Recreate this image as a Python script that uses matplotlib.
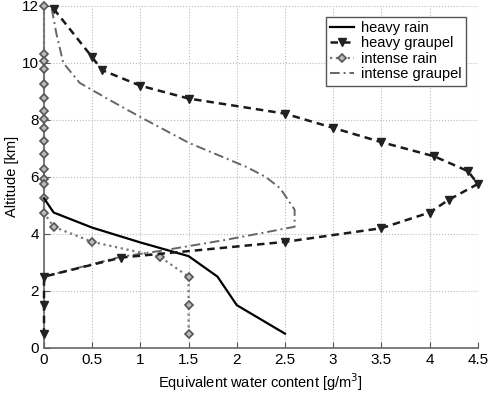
import matplotlib
matplotlib.use("Agg")
import matplotlib.pyplot as plt

plt.rcParams['font.family'] = ['Liberation Sans', 'DejaVu Sans']

# heavy rain (solid)
hr_x = [0, 0.1, 0.5, 1.0, 1.5, 1.8, 2.0, 2.5]
hr_y = [5.25, 4.75, 4.22, 3.7, 3.22, 2.5, 1.5, 0.5]

# heavy graupel (dashed, triangles)
hg_x = [0.1, 0.5, 0.6, 1.0, 1.5, 2.5, 3.0, 3.5, 4.05, 4.4, 4.5, 4.2, 4.0, 3.5, 2.5, 0.8, 0, 0, 0]
hg_y = [11.9, 10.2, 9.75, 9.2, 8.75, 8.22, 7.72, 7.22, 6.72, 6.2, 5.75, 5.2, 4.75, 4.2, 3.72, 3.17, 2.5, 1.5, 0.5]

# intense rain (dotted, diamonds)
ir_x = [0] * 16 + [0.1, 0.5, 1.2, 1.5, 1.5, 1.5]
ir_y = [12, 10.3, 10.07, 9.78, 9.25, 8.78, 8.31, 8.02, 7.73, 7.26, 6.79, 6.26, 5.91, 5.74, 5.27, 4.74,
        4.25, 3.72, 3.2, 2.5, 1.5, 0.5]

# intense graupel (dash-dot)
ig_x = [0.08, 0.13, 0.2, 0.37, 0.68, 1.0, 1.5, 2.1, 2.3, 2.45, 2.6, 2.6, 1.9, 1.2, 0.8, 0]
ig_y = [11.9, 11.0, 10.0, 9.3, 8.7, 8.1, 7.2, 6.35, 6.0, 5.6, 4.85, 4.25, 3.8, 3.4, 3.2, 2.5]

xticks = [0, 0.5, 1, 1.5, 2, 2.5, 3, 3.5, 4, 4.5]
xtick_labels = ['0', '0.5', '1', '1.5', '2', '2.5', '3', '3.5', '4', '4.5']
yticks = [0, 2, 4, 6, 8, 10, 12]

fig = plt.figure(figsize=(4.89, 3.94), dpi=100)
ax = fig.add_axes([0.09, 0.117, 0.887, 0.868])

ax.plot(hr_x, hr_y, color='black', lw=1.6, label='heavy rain', clip_on=False, zorder=4)
ax.plot(hg_x, hg_y, color='#1a1a1a', lw=1.8, ls=(0, (3, 2)), marker='v', ms=6,
        mfc='#222222', mec='#222222', label='heavy graupel', clip_on=False, zorder=5)
ax.plot(ir_x, ir_y, color='#777777', lw=1.6, ls=':', marker='D', ms=4,
        mfc='#bbbbbb', mec='#555555', mew=1.2, label='intense rain', clip_on=False, zorder=3)
ax.plot(ig_x, ig_y, color='#666666', lw=1.4, ls=(0, (5, 2, 1, 2)), label='intense graupel',
        clip_on=False, zorder=3)

ax.set_xlim(0, 4.5)
ax.set_ylim(0, 12)
ax.set_xticks(xticks)
ax.set_xticklabels(xtick_labels)
ax.set_yticks(yticks)
ax.grid(True, ls=':', color='#bbbbbb', lw=0.8)
ax.tick_params(direction='in', labelsize=11, length=4, color='#555555')
for s in ['top', 'right']:
    ax.spines[s].set_visible(False)
for s in ['left', 'bottom']:
    ax.spines[s].set_color('#666666')
    ax.spines[s].set_linewidth(1.2)

ax.set_xlabel('Equivalent water content [g/m$^3$]', fontsize=10.5, labelpad=3)
ax.set_ylabel('Altitude [km]', fontsize=10.5, labelpad=2)

leg = ax.legend(loc='upper right', fontsize=10.5, handlelength=1.6, borderpad=0.3,
                labelspacing=0.1, handletextpad=0.5, fancybox=False, framealpha=1,
                bbox_to_anchor=(0.99, 0.99))
leg.get_frame().set_edgecolor('#555555')
leg.get_frame().set_linewidth(1.0)

fig.savefig('out.png', dpi=100)
